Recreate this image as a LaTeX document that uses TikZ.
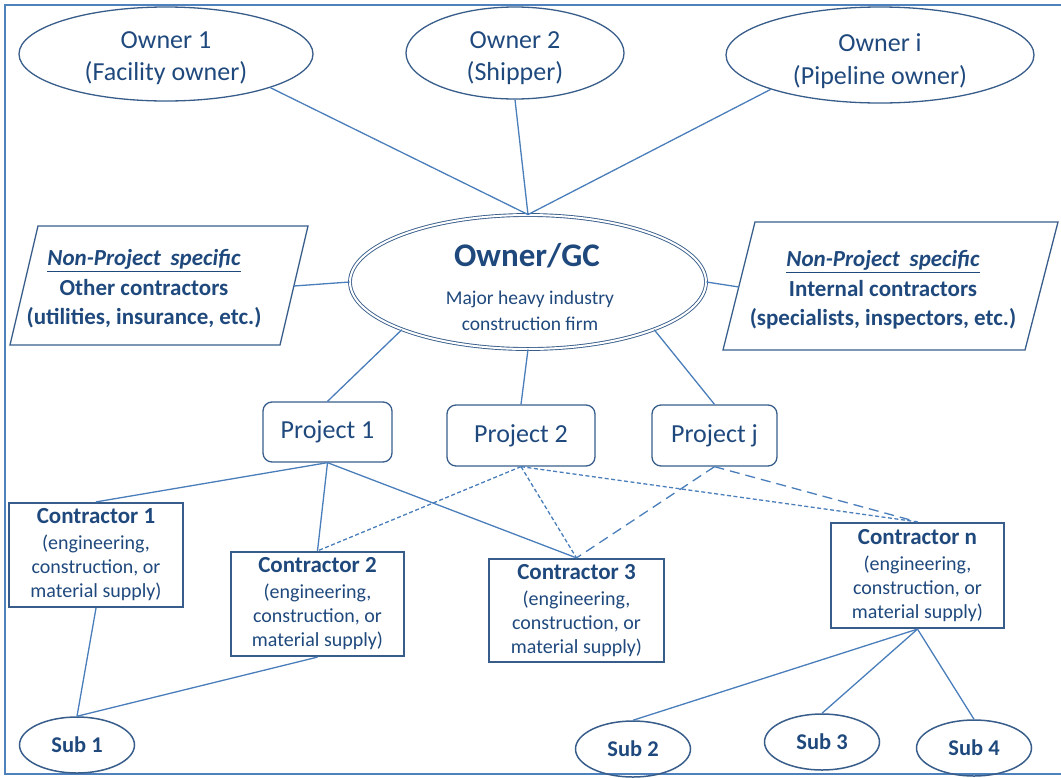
\documentclass[tikz,border=0pt]{standalone}
\usepackage{fontspec}
\setmainfont{Carlito}
\usetikzlibrary{shapes.geometric}
\definecolor{txt}{RGB}{31,73,125}
\definecolor{edgec}{RGB}{56,93,138}
\definecolor{linkc}{RGB}{74,126,187}
\definecolor{framec}{RGB}{79,129,189}
\begin{document}
\begin{tikzpicture}[x=1pt,y=-1pt,
  owner/.style={ellipse, draw=edgec, line width=1.3pt, inner sep=0pt},
  ownertext/.style={text=txt, align=center, inner sep=0pt, font=\fontsize{26}{32.5}\selectfont},
  gcnode/.style={ellipse, draw=edgec, double=white, double distance=2pt, line width=0.9pt, fill=white, inner sep=0pt},
  projbox/.style={rectangle, rounded corners=9pt, draw=edgec, line width=1.3pt, inner sep=0pt, text=txt,
    font=\fontsize{26}{32}\selectfont},
  contr/.style={rectangle, draw=edgec, line width=2.2pt, inner sep=0pt, text=txt, align=center,
    font=\fontsize{20}{24}\selectfont},
  subnode/.style={ellipse, draw=edgec, line width=1.5pt, inner sep=0pt, text=txt,
    minimum width=115pt, minimum height=56pt, font=\fontsize{22.5}{26}\selectfont\bfseries},
  paratext/.style={text=txt, align=center, font=\fontsize{23}{29.5}\selectfont\bfseries},
  para/.style={draw=edgec, line width=1.3pt},
  link/.style={draw=linkc, line width=1.3pt},
  fine/.style={link, dash pattern=on 4pt off 2.5pt},
  longdash/.style={link, dash pattern=on 10pt off 6pt}
]
\useasboundingbox (0,0) rectangle (1061,777);
% outer frame
\draw[framec, line width=2.5pt] (1063,5) -- (5,5) -- (5,774) -- (1063,774);

% owners
\node[owner, minimum width=294pt, minimum height=94pt] (o1) at (166,54) {};
\node[ownertext] (o1t) at (166,58) {Owner 1\\(Facility owner)};
\node[owner, minimum width=218pt, minimum height=92pt] (o2) at (515,53) {};
\node[ownertext] (o2t) at (515,58) {Owner 2\\(Shipper)};
\node[owner, minimum width=308pt, minimum height=96pt] (oi) at (880,55) {};
\node[ownertext] (oit) at (880,61) {Owner i\\(Pipeline owner)};

% general contractor
\node[gcnode, minimum width=356pt, minimum height=134pt] (gc) at (528,282) {};
\node[text=txt, font=\fontsize{33}{40}\selectfont\bfseries] (gct) at (527,256) {Owner/GC};
\node[text=txt, align=center, font=\fontsize{19.5}{26}\selectfont] (gcs) at (530,311) {Major heavy industry\\construction firm};

% non-project specific contractors
\draw[para] (10,345) -- (280,345) -- (308,226) -- (38,226) -- cycle;
\coordinate (lp) at (294,286);
\node[paratext] (lpt) at (144,289) {\textit{\underline{Non-Project\hspace{0.2em} specific}}\\Other contractors\\(utilities, insurance, etc.)};
\draw[para] (723,350) -- (1025,350) -- (1058,222) -- (755,222) -- cycle;
\coordinate (rp) at (739,287);
\node[paratext] (rpt) at (883,290) {\textit{\underline{Non-Project\hspace{0.2em} specific}}\\Internal contractors\\(specialists, inspectors, etc.)};

% projects
\node[projbox, minimum width=129pt, minimum height=60pt] (p1) at (327.5,432) {\raisebox{-2pt}{Project 1}};
\node[projbox, minimum width=148pt, minimum height=61pt] (p2) at (521,435.5) {\raisebox{-2pt}{Project 2}};
\node[projbox, minimum width=125pt, minimum height=61pt] (pj) at (714.5,435.5) {\raisebox{-2pt}{Project j}};

% contractors
\node[contr, minimum width=174pt, minimum height=104pt] (c1) at (96,555) {{\fontsize{23}{24}\selectfont\bfseries Contractor 1}\\[2pt](engineering,\\construction, or\\material supply)};
\node[contr, minimum width=173pt, minimum height=104pt] (c2) at (317.5,604) {{\fontsize{23}{24}\selectfont\bfseries Contractor 2}\\[2pt](engineering,\\construction, or\\material supply)};
\node[contr, minimum width=175pt, minimum height=103pt] (c3) at (576.5,610.5) {{\fontsize{23}{24}\selectfont\bfseries Contractor 3}\\[2pt](engineering,\\construction, or\\material supply)};
\node[contr, minimum width=173pt, minimum height=105pt] (cn) at (917.5,575.5) {{\fontsize{23}{24}\selectfont\bfseries Contractor n}\\[2pt](engineering,\\construction, or\\material supply)};

% subcontractors
\node[subnode] (s1) at (77,745) {Sub 1};
\node[subnode] (s2) at (633,749) {Sub 2};
\node[subnode] (s3) at (822,742) {Sub 3};
\node[subnode] (s4) at (974,748) {Sub 4};

% owners to GC
\draw[link] (o1.south east) -- (gc.north);
\draw[link] (o2.south) -- (gc.north);
\draw[link] (oi.south west) -- (gc.north);
% GC to non-project contractors
\draw[link] (lp) -- (gc.west);
\draw[link] (gc.east) -- (rp);
% GC to projects
\draw[link] (gc.south west) -- (p1.north);
\draw[link] (gc.south) -- (p2.north);
\draw[link] (gc.south east) -- (pj.north);
% project 1 (solid)
\draw[link] (p1.south) -- (c1.north);
\draw[link] (p1.south) -- (c2.north);
\draw[link] (p1.south) -- (c3.north);
% project 2 (fine dashes)
\draw[fine] (p2.south) -- (c2.north);
\draw[fine] (p2.south) -- (c3.north);
\draw[fine] (p2.south) -- (cn.north);
% project j (long dashes)
\draw[longdash] (pj.south) -- (c3.north);
\draw[longdash] (pj.south) -- (cn.north);
% contractors to subcontractors
\draw[link] (c1.south) -- (s1.north);
\draw[link] (c2.south) -- (s1.north);
\draw[link] (cn.south) -- (s2.north);
\draw[link] (cn.south) -- (s3.north);
\draw[link] (cn.south) -- (s4.north);
\end{tikzpicture}
\end{document}
